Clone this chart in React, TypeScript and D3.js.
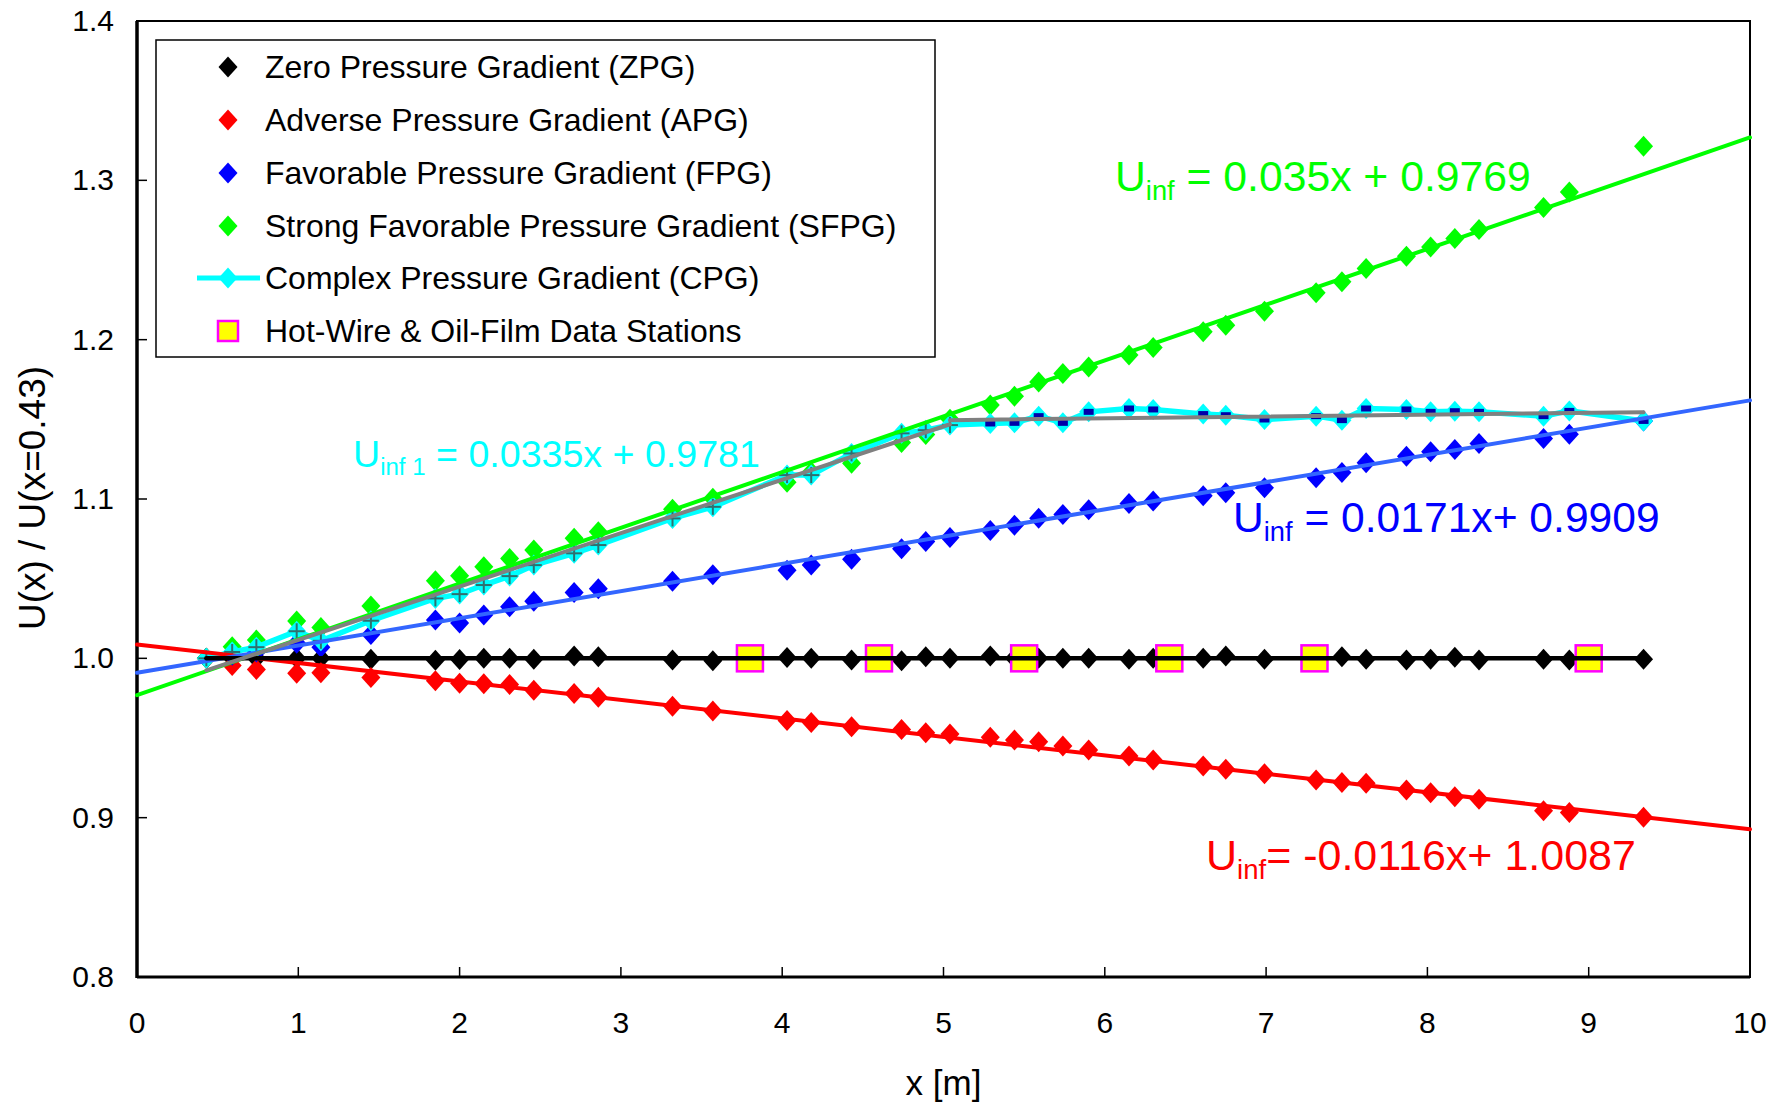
import React from "react";
import * as d3 from "d3";

// ---- Data ----
const stations = [0.43, 0.59, 0.74, 0.99, 1.14, 1.45, 1.85, 2.0, 2.15, 2.31, 2.46, 2.71, 2.86, 3.32, 3.57, 4.03, 4.18, 4.43, 4.74, 4.89, 5.04, 5.29, 5.44, 5.59, 5.74, 5.9, 6.15, 6.3, 6.61, 6.75, 6.99, 7.31, 7.47, 7.62, 7.87, 8.02, 8.17, 8.32, 8.72, 8.88, 9.34];

const zpg = [1.0, 1.0, 1.0, 1.0, 1.0, 0.9995, 0.9988, 0.9992, 1.0, 1.0, 0.9995, 1.0015, 1.001, 0.999, 0.9985, 1.0005, 1.0, 0.999, 0.9985, 1.001, 1.0, 1.0014, 1.0, 1.0, 1.0, 1.0, 0.9995, 1.0, 1.0, 1.0015, 0.9995, 1.0, 1.001, 0.9995, 0.999, 0.9995, 1.0007, 0.999, 0.9995, 0.999, 0.9995];

const apg = [1.0, 0.9955, 0.993, 0.9906, 0.991, 0.988, 0.986, 0.9844, 0.984, 0.9835, 0.98, 0.978, 0.9755, 0.97, 0.967, 0.961, 0.9597, 0.957, 0.9554, 0.9533, 0.9525, 0.9504, 0.9487, 0.9477, 0.945, 0.9425, 0.9387, 0.9362, 0.9325, 0.9304, 0.9276, 0.9237, 0.922, 0.9216, 0.9174, 0.9157, 0.9132, 0.9116, 0.9044, 0.9032, 0.9003];

const fpg = [1.0, 1.002, 1.004, 1.0094, 1.007, 1.015, 1.024, 1.0222, 1.0272, 1.0324, 1.0358, 1.0413, 1.0436, 1.0484, 1.0525, 1.0553, 1.0586, 1.0622, 1.0688, 1.0733, 1.0758, 1.0802, 1.0836, 1.0879, 1.0903, 1.0932, 1.0972, 1.0987, 1.102, 1.1039, 1.107, 1.1133, 1.1167, 1.1227, 1.1269, 1.1296, 1.1311, 1.1349, 1.138, 1.1407, 1.149];

const sfpg = [1.0, 1.0073, 1.0115, 1.0234, 1.0194, 1.0328, 1.0487, 1.0518, 1.0575, 1.0627, 1.068, 1.0753, 1.0794, 1.0935, 1.1005, 1.1105, 1.117, 1.1225, 1.1355, 1.1405, 1.15, 1.159, 1.1645, 1.1735, 1.1788, 1.1829, 1.1903, 1.1951, 1.2049, 1.2091, 1.2179, 1.2294, 1.2363, 1.2447, 1.2524, 1.2582, 1.2635, 1.2691, 1.2829, 1.2927, 1.3214];

const cpg = [1.0, 1.004, 1.007, 1.017, 1.011, 1.0236, 1.0376, 1.0403, 1.046, 1.0516, 1.0585, 1.0659, 1.0711, 1.0878, 1.0951, 1.115, 1.115, 1.1286, 1.1412, 1.1432, 1.1464, 1.1474, 1.1478, 1.152, 1.1478, 1.1547, 1.1568, 1.1562, 1.1533, 1.1526, 1.1499, 1.152, 1.1495, 1.1568, 1.1562, 1.1547, 1.1551, 1.1547, 1.152, 1.1553, 1.149];

const dataStationsX = [3.8, 4.6, 5.5, 6.4, 7.3, 9.0];
const dataStationsY = [1.0, 1.0, 1.0, 1.0, 1.0, 1.0];

// fit lines (endpoints)
const zpgFitX = [0.43, 9.34];
const zpgFitY = [1.0, 1.0];
const apgFitX = [0, 10];
const apgFitY = [1.0087, 0.8927];
const fpgFitX = [0, 10];
const fpgFitY = [0.9909, 1.1619];
const sfpgFitX = [0, 10];
const sfpgFitY = [0.9769, 1.3269];
const cpgFit1X = [0.43, 5.04];
const cpgFit1Y = [0.9925, 1.1469];
const cpgFit2X = [5.04, 9.34];
const cpgFit2Y = [1.1495, 1.1545];

const xTicks = [0, 1, 2, 3, 4, 5, 6, 7, 8, 9, 10];
const yTicks = [0.8, 0.9, 1.0, 1.1, 1.2, 1.3, 1.4];

const legendLabels = [
  "Zero Pressure Gradient (ZPG)",
  "Adverse Pressure Gradient (APG)",
  "Favorable Pressure Gradient (FPG)",
  "Strong Favorable Pressure Gradient (SFPG)",
  "Complex Pressure Gradient (CPG)",
  "Hot-Wire & Oil-Film Data Stations",
];

const FONT = "'Liberation Sans', Arial, Helvetica, sans-serif";

const W = 1787;
const H = 1102;
const L = 137, R = 1750, T = 21, B = 977;

const x = d3.scaleLinear().domain([0, 10]).range([L, R]);
const y = d3.scaleLinear().domain([0.8, 1.4]).range([B, T]);

const diamond = "M0,-10.5 L9.5,0 L0,10.5 L-9.5,0 Z";

function pts(xs: number[], ys: number[]) {
  return xs.map((v, i) => [v, ys[i]] as [number, number]);
}

const lineGen = d3
  .line<[number, number]>()
  .x((d) => x(d[0]))
  .y((d) => y(d[1]));

function Diamonds({ xs, ys, fill }: { xs: number[]; ys: number[]; fill: string }) {
  return (
    <g>
      {xs.map((v, i) => (
        <path key={i} d={diamond} transform={`translate(${x(v)},${y(ys[i])})`} fill={fill} />
      ))}
    </g>
  );
}

function Eq({ x0, y0, color, sub, rest, size }: { x0: number; y0: number; color: string; sub: string; rest: string; size: number }) {
  return (
    <text x={x0} y={y0} fill={color} fontSize={size} fontFamily={FONT} style={{ whiteSpace: "pre" }}>
      <tspan>U</tspan>
      <tspan fontSize={size * 0.64} dy={size * 0.21}>{sub}</tspan>
      <tspan dy={-size * 0.21}>{rest}</tspan>
    </text>
  );
}

export default function App() {
  const legendRowY = [67, 120, 173, 226, 278, 331];
  return (
    <svg
      width={W}
      height={H}
      viewBox={`0 0 ${W} ${H}`}
      style={{ position: "absolute", left: 0, top: 0, background: "#fff" }}
    >
      <rect x={0} y={0} width={W} height={H} fill="#fff" />

      {/* frame */}
      <rect x={L} y={T} width={R - L} height={B - T} fill="none" stroke="#000" strokeWidth={2} />
      <line x1={L} y1={T} x2={L} y2={B + 1} stroke="#000" strokeWidth={3.5} />
      <line x1={L} y1={B} x2={R} y2={B} stroke="#000" strokeWidth={3} />

      {/* ticks */}
      {yTicks.map((t) => (
        <g key={"yt" + t}>
          <line x1={L} x2={L + 10} y1={y(t)} y2={y(t)} stroke="#000" strokeWidth={1.5} />
          <text x={114} y={y(t) + 10} textAnchor="end" fontSize={30} fontFamily={FONT} fill="#000">
            {t.toFixed(1)}
          </text>
        </g>
      ))}
      {xTicks.map((t) => (
        <g key={"xt" + t}>
          <line x1={x(t)} x2={x(t)} y1={B} y2={B - 10} stroke="#000" strokeWidth={1.5} />
          <text x={x(t)} y={1033} textAnchor="middle" fontSize={30} fontFamily={FONT} fill="#000">
            {t}
          </text>
        </g>
      ))}

      {/* axis titles */}
      <text x={(L + R) / 2} y={1095} textAnchor="middle" fontSize={35} fontFamily={FONT} fill="#000">
        x [m]
      </text>
      <text
        transform={`translate(45,498) rotate(-90)`}
        textAnchor="middle"
        fontSize={37}
        fontFamily={FONT}
        fill="#000"
      >
        U(x) / U(x=0.43)
      </text>

      {/* scatter markers */}
      <Diamonds xs={stations} ys={zpg} fill="#000000" />
      <Diamonds xs={stations} ys={apg} fill="#FF0000" />
      <Diamonds xs={stations} ys={fpg} fill="#0000FF" />
      <Diamonds xs={stations} ys={sfpg} fill="#00FF00" />

      {/* CPG line + markers */}
      <path d={lineGen(pts(stations, cpg)) || ""} fill="none" stroke="#00FFFF" strokeWidth={5.5} />
      <Diamonds xs={stations} ys={cpg} fill="#00FFFF" />
      {stations.map((v, i) =>
        v <= 5.04 ? (
          <g key={"c" + i} transform={`translate(${x(v)},${y(cpg[i])})`} stroke="#2F6F6F" strokeWidth={2}>
            <line x1={-8} x2={8} y1={0} y2={0} />
            <line x1={0} x2={0} y1={-8} y2={8} />
          </g>
        ) : (
          <rect key={"c" + i} x={x(v) - 5} y={y(cpg[i]) - 3} width={10} height={6} fill="#0000AA" />
        )
      )}

      {/* data stations */}
      {dataStationsX.map((v, i) => (
        <rect
          key={"s" + i}
          x={x(v) - 13}
          y={y(dataStationsY[i]) - 13}
          width={26}
          height={26}
          fill="#FFFF00"
          stroke="#FF00FF"
          strokeWidth={2.5}
        />
      ))}

      {/* fit lines */}
      <path d={lineGen(pts(apgFitX, apgFitY)) || ""} stroke="#FF0000" strokeWidth={4} fill="none" strokeLinecap="round" />
      <path d={lineGen(pts(fpgFitX, fpgFitY)) || ""} stroke="#3366FF" strokeWidth={4} fill="none" strokeLinecap="round" />
      <path d={lineGen(pts(sfpgFitX, sfpgFitY)) || ""} stroke="#00FF00" strokeWidth={4} fill="none" strokeLinecap="round" />
      <path d={lineGen(pts(zpgFitX, zpgFitY)) || ""} stroke="#000000" strokeWidth={4.5} fill="none" strokeLinecap="round" />
      <path d={lineGen(pts(cpgFit1X, cpgFit1Y)) || ""} stroke="#808080" strokeWidth={4} fill="none" strokeLinecap="round" />
      <path d={lineGen(pts(cpgFit2X, cpgFit2Y)) || ""} stroke="#808080" strokeWidth={4} fill="none" strokeLinecap="round" />

      {/* equations */}
      <Eq x0={1115} y0={191} size={42.7} color="#00FF00" sub="inf" rest=" = 0.035x + 0.9769" />
      <Eq x0={353} y0={467} size={37.6} color="#00FFFF" sub="inf 1" rest=" = 0.0335x + 0.9781" />
      <Eq x0={1233} y0={532} size={42.6} color="#0000FF" sub="inf" rest=" = 0.0171x+ 0.9909" />
      <Eq x0={1206} y0={870} size={43} color="#FF0000" sub="inf" rest="= -0.0116x+ 1.0087" />

      {/* legend */}
      <rect x={156} y={40} width={779} height={317} fill="#fff" stroke="#000" strokeWidth={1.5} />
      {legendLabels.map((lab, i) => {
        const cy = legendRowY[i];
        const colors = ["#000000", "#FF0000", "#0000FF", "#00FF00", "#00FFFF"];
        return (
          <g key={"lg" + i}>
            {i === 4 && <line x1={197} x2={260} y1={cy} y2={cy} stroke="#00FFFF" strokeWidth={5} />}
            {i < 5 ? (
              <path d={diamond} transform={`translate(228,${cy})`} fill={colors[i]} />
            ) : (
              <rect x={218} y={cy - 10} width={20} height={20} fill="#FFFF00" stroke="#FF00FF" strokeWidth={2.5} />
            )}
            <text x={265} y={cy + 11} fontSize={32} fontFamily={FONT} fill="#000">
              {lab}
            </text>
          </g>
        );
      })}
    </svg>
  );
}
